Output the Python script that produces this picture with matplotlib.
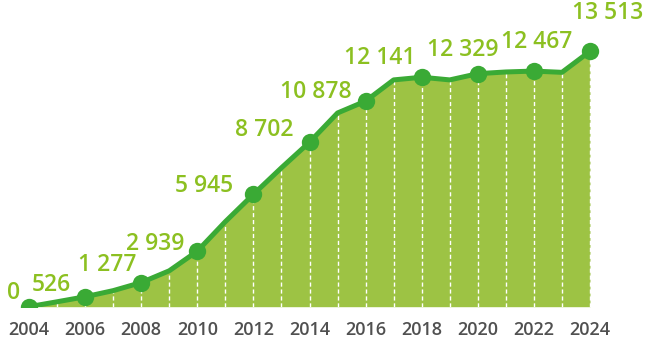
import matplotlib
matplotlib.use("Agg")
import matplotlib.pyplot as plt

# -----------------------------
# Data
# -----------------------------
years = list(range(2004, 2025))
values = [0, 260, 526, 850, 1277, 1900, 2939, 4500, 5945, 7350, 8702,
          10250, 10878, 12000, 12141, 12000, 12329, 12420, 12467, 12400, 13513]

label_years = years[::2]
label_values = values[::2]

# label offsets from the marker, in pixels (dx right, dy up)
label_offsets = [(-15, 14), (-34, 12), (-34, 18), (-42, 7), (-49, 8), (-45, 12),
                 (-50, 9), (-42, 19), (-15, 24), (3, 29), (18, 38)]

fill_color = "#9dc344"
line_color = "#3aaa35"
label_color = "#8cc021"
tick_color = "#505050"

# -----------------------------
# Figure
# -----------------------------
W, H = 650, 352
fig = plt.figure(figsize=(W / 100, H / 100), dpi=100)
base = 306.7
ax = fig.add_axes([0, (H - base) / H, 1, base / H])

px_per_year = (590 - 29) / 20
ax.set_xlim(2004 - 29 / px_per_year, 2024 + (W - 590) / px_per_year)
ax.set_ylim(0, base / 0.0189)

ax.fill_between(years, values, 0, color=fill_color, lw=0, zorder=1)
ax.vlines(years[1:], 0, values[1:], colors="white", linestyles=(0, (3, 2)),
          lw=1, zorder=2)
ax.plot(years, values, color=line_color, lw=3.6, solid_joinstyle="round",
        zorder=3)
ax.plot(label_years, label_values, "o", color=line_color, ms=12.5, mew=0,
        zorder=4)

for yr, v, (dx, dy) in zip(label_years, label_values, label_offsets):
    ax.annotate(f"{v:,}".replace(",", " "), (yr, v),
                xytext=(dx * 0.72, dy * 0.72), textcoords="offset points",
                ha="center", va="center", color=label_color,
                fontsize=16.5, family="Open Sans", fontweight="semibold")

ax.set_xticks(label_years)
ax.set_xticklabels([str(y) for y in label_years], family="Open Sans",
                   fontsize=13, fontweight="semibold", color=tick_color)
ax.tick_params(axis="x", length=0, pad=10)
ax.set_yticks([])
for s in ax.spines.values():
    s.set_visible(False)
ax.patch.set_alpha(0)

fig.savefig("out.png", dpi=100)
